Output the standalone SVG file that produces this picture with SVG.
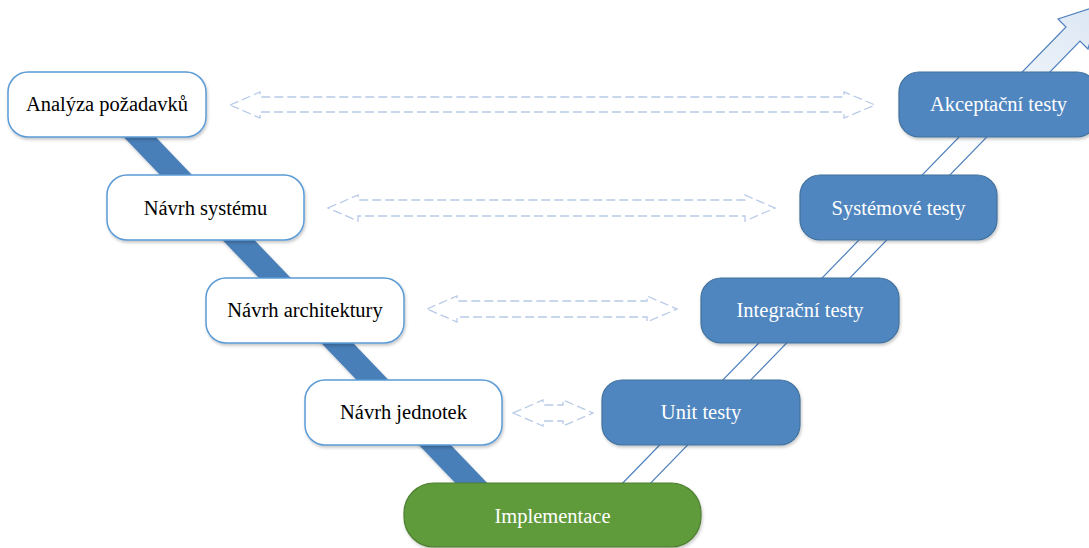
<svg xmlns="http://www.w3.org/2000/svg" width="1089" height="548" viewBox="0 0 1089 548">
  <defs>
    <filter id="shadow" x="-10%" y="-10%" width="130%" height="140%">
      <feDropShadow dx="1" dy="2" stdDeviation="1.8" flood-color="#000" flood-opacity="0.22"/>
    </filter>
    <linearGradient id="arrowFill" gradientUnits="userSpaceOnUse" x1="620" y1="490" x2="1095" y2="10">
      <stop offset="0" stop-color="#ffffff"/>
      <stop offset="0.7" stop-color="#ffffff"/>
      <stop offset="1" stop-color="#dce7f4"/>
    </linearGradient>
    <style>
      .spec rect { fill: #ffffff; stroke: #5b9bd5; stroke-width: 1.5; }
      .test rect { fill: #4f86c0; stroke: #41719c; stroke-width: 1.2; }
      .impl rect { fill: #5f9a3b; stroke: #4e7f30; stroke-width: 1.2; }
      text { font-family: "Liberation Serif", "Times New Roman", serif; font-size: 20.5px; text-anchor: middle; }
      .spec text { fill: #000000; }
      .test text, .impl text { fill: #ffffff; }
      .link { fill: none; stroke: #b8cae8; stroke-width: 1.3; stroke-dasharray: 9 4; }
    </style>
  </defs>

  <!-- descending bar on the specification side -->
  <g id="bar-left">
    <polygon points="117,130 149,130 494,490 462,490" fill="#4a7fb8" filter="url(#shadow)"/>
  </g>

  <!-- ascending hollow arrow on the testing side -->
  <g id="arrow-right">
    <polygon points="616,490 1066,27 1058,19 1101,5 1088,49 1080,41 644,490" fill="url(#arrowFill)" stroke="#4f81bd" stroke-width="1.2" stroke-linejoin="miter"/>
  </g>

  <!-- correspondence arrows between levels -->
  <g id="connectors">
    <polygon class="link" points="230,105 260,92 260,97 844,97 844,92 875,105 844,118 844,112 260,112 260,118"/>
    <polygon class="link" points="328,208 358,195 358,200 745,200 745,195 775,208 745,221 745,216 358,216 358,221"/>
    <polygon class="link" points="427,309 457,296 457,301 647,301 647,296 677,309 647,322 647,317 457,317 457,322"/>
    <polygon class="link" points="513,413 543,400 543,405 563,405 563,400 593,413 563,426 563,421 543,421 543,426"/>
  </g>

  <g id="analyza" class="spec">
    <rect x="8" y="72" width="198" height="65" rx="20" filter="url(#shadow)"/>
    <text x="107" y="111">Analýza požadavků</text>
  </g>
  <g id="navrh-systemu" class="spec">
    <rect x="107" y="175" width="197" height="65" rx="20" filter="url(#shadow)"/>
    <text x="205.5" y="215">Návrh systému</text>
  </g>
  <g id="navrh-architektury" class="spec">
    <rect x="206" y="278" width="198" height="65" rx="20" filter="url(#shadow)"/>
    <text x="305" y="317">Návrh architektury</text>
  </g>
  <g id="navrh-jednotek" class="spec">
    <rect x="305" y="380" width="197" height="65" rx="20" filter="url(#shadow)"/>
    <text x="403.5" y="419">Návrh jednotek</text>
  </g>

  <g id="implementace" class="impl">
    <rect x="404" y="483" width="297" height="64" rx="30" filter="url(#shadow)"/>
    <text x="552.5" y="523">Implementace</text>
  </g>

  <g id="unit-testy" class="test">
    <rect x="602" y="380" width="198" height="65" rx="20" filter="url(#shadow)"/>
    <text x="701" y="419">Unit testy</text>
  </g>
  <g id="integracni-testy" class="test">
    <rect x="701" y="278" width="198" height="65" rx="20" filter="url(#shadow)"/>
    <text x="800" y="317">Integrační testy</text>
  </g>
  <g id="systemove-testy" class="test">
    <rect x="800" y="175" width="197" height="65" rx="20" filter="url(#shadow)"/>
    <text x="898.5" y="215">Systémové testy</text>
  </g>
  <g id="akceptacni-testy" class="test">
    <rect x="899" y="72" width="198" height="65" rx="20" filter="url(#shadow)"/>
    <text x="998.5" y="111">Akceptační testy</text>
  </g>
</svg>
